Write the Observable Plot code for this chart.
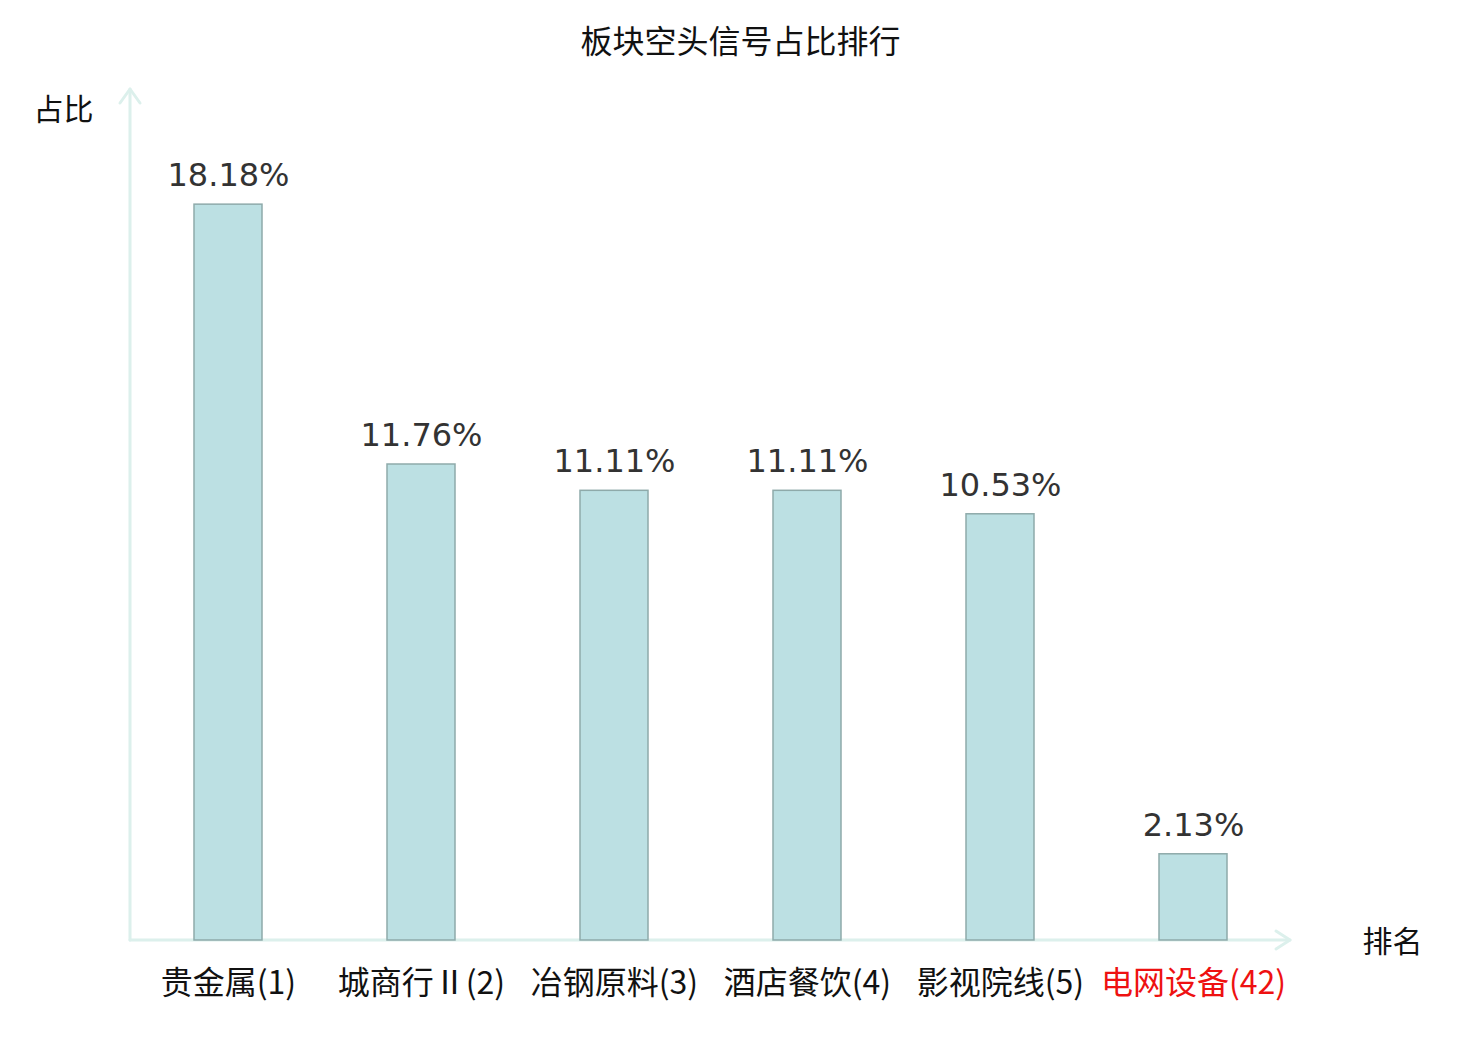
<!DOCTYPE html>
<html>
<head>
<meta charset="utf-8">
<script src="https://cdn.jsdelivr.net/npm/d3@7"></script>
<script src="https://cdn.jsdelivr.net/npm/@observablehq/plot@0.6"></script>
<style>
  html, body { margin: 0; padding: 0; background: #fff; }
  #chart { width: 1480px; height: 1040px; }
</style>
</head>
<body>
<div id="chart"></div>
<script>
const categories = ["贵金属(1)", "城商行Ⅱ(2)", "冶钢原料(3)", "酒店餐饮(4)", "影视院线(5)", "电网设备(42)"];
const values = [18.18, 11.76, 11.11, 11.11, 10.53, 2.13];
const valueLabels = ["18.18%", "11.76%", "11.11%", "11.11%", "10.53%", "2.13%"];
const highlight = [false, false, false, false, false, true];
const title = "板块空头信号占比排行";
const yAxisLabel = "占比";
const xAxisLabel = "排名";

const data = categories.map((c, i) => ({cat: c, value: values[i], label: valueLabels[i], hl: highlight[i]}));

const axisColor = "#dcf0ec";
const cjk = "'Noto Sans CJK SC', 'Noto Sans', sans-serif";

function axesMark(index, scales, values, dim) {
  const g = d3.create("svg:g");
  const x0 = dim.marginLeft, x1 = dim.width - dim.marginRight;
  const y0 = dim.height - dim.marginBottom, y1 = dim.marginTop;
  const s = {stroke: axisColor, "stroke-width": 3, fill: "none", "stroke-linecap": "round", "stroke-linejoin": "round"};
  const add = (d) => { const p = g.append("path").attr("d", d); for (const k in s) p.attr(k, s[k]); };
  add(`M${x0},${y0}V${y1 - 1}`);
  add(`M${x0 - 10},${y1 + 13}L${x0},${y1 - 1}L${x0 + 10},${y1 + 13}`);
  add(`M${x0},${y0}H${x1}`);
  add(`M${x1 - 14},${y0 - 9}L${x1},${y0}L${x1 - 14},${y0 + 9}`);
  return g.node();
}

const chart = Plot.plot({
  width: 1480,
  height: 1040,
  marginLeft: 130,
  marginRight: 190,
  marginTop: 90,
  marginBottom: 100,
  style: {background: "#fff", overflow: "visible"},
  x: {domain: categories, paddingInner: 0.648, paddingOuter: 0.324, axis: null},
  y: {domain: [0, 21], axis: null},
  marks: [
    axesMark,
    Plot.barY(data, {x: "cat", y: "value", fill: "#bce0e3", stroke: "#8eaaaa", strokeWidth: 1.5}),
    Plot.text(data, {x: "cat", y: "value", text: "label", dy: -29, lineAnchor: "middle",
      fill: "#333", fontSize: 32, fontFamily: "'DejaVu Sans', sans-serif"}),
    Plot.text(data, {x: "cat", text: "cat", frameAnchor: "bottom", dy: 43, lineAnchor: "middle",
      fill: d => d.hl ? "#ee1111" : "#111", fontSize: 32, fontFamily: cjk}),
    Plot.text([title], {text: d => d, frameAnchor: "top", dx: 30, dy: -48, lineAnchor: "middle",
      fill: "#111", fontSize: 32, fontFamily: cjk}),
    Plot.text([yAxisLabel], {text: d => d, frameAnchor: "top-left", dx: -67, dy: 20, lineAnchor: "middle",
      textAnchor: "middle", fill: "#111", fontSize: 30, fontFamily: cjk}),
    Plot.text([xAxisLabel], {text: d => d, frameAnchor: "bottom-right", dx: 102, dy: 2, lineAnchor: "middle",
      textAnchor: "middle", fill: "#111", fontSize: 30, fontFamily: cjk})
  ]
});
document.getElementById("chart").appendChild(chart);
</script>
</body>
</html>
